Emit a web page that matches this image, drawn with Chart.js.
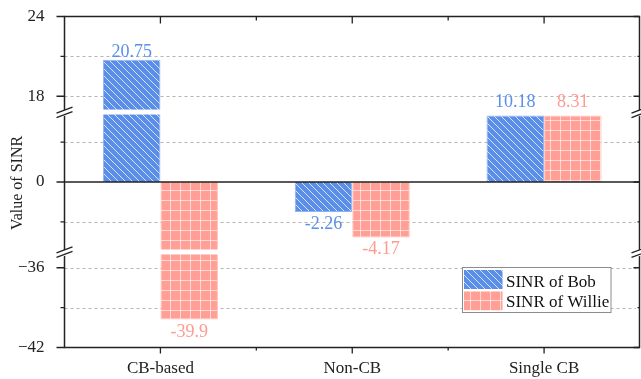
<!DOCTYPE html>
<html>
<head>
<meta charset="utf-8">
<script src="https://cdn.jsdelivr.net/npm/chart.js@4.4.0/dist/chart.umd.min.js"></script>
<style>
  html, body { margin: 0; padding: 0; background: #fff; }
</style>
</head>
<body>
<canvas id="sinrChart" width="641" height="379"></canvas>
<script>
// data
const categories = ['CB-based', 'Non-CB', 'Single CB'];
const bobValues = [20.75, -2.26, 10.18];
const willieValues = [-39.9, -4.17, 8.31];
const majorTicks = [-42, -36, 0, 18, 24];
const minorTicks = [-39, -3, 3, 21];
const axisSegments = [[-42, -35], [-5, 5], [17, 24]];

const GAP = 6;
const FONT = "'Liberation Serif', 'Times New Roman', serif";
const BOB = '#5a8ee8';
const WILLIE = '#ff9f96';

// y scale with two breaks: each segment keeps the same unit length
class BrokenLinearScale extends Chart.LinearScale {
    determineDataLimits() {
        this.min = axisSegments[0][0];
        this.max = axisSegments[axisSegments.length - 1][1];
    }
    buildTicks() {
        return majorTicks.concat(minorTicks).sort((a, b) => a - b).map(v => ({ value: v }));
    }
    getPixelForValue(value) {
        const span = axisSegments.reduce((s, g) => s + g[1] - g[0], 0);
        const unit = (this.bottom - this.top - GAP * (axisSegments.length - 1)) / span;
        let y = this.bottom;
        for (let i = 0; i < axisSegments.length; i++) {
            const [lo, hi] = axisSegments[i];
            if (value < lo) return i === 0 ? y : y + GAP;
            if (value <= hi || i === axisSegments.length - 1) return y - (Math.min(value, hi) - lo) * unit;
            y -= (hi - lo) * unit + GAP;
        }
        return y;
    }
    getValueForPixel(pixel) {
        return this.min + (this.bottom - pixel) / (this.bottom - this.top) * (this.max - this.min);
    }
}
BrokenLinearScale.id = 'brokenLinear';
BrokenLinearScale.defaults = {};
Chart.register(BrokenLinearScale);

function hatchPattern(base) {
    const s = 7;
    const c = document.createElement('canvas');
    c.width = c.height = s;
    const g = c.getContext('2d');
    g.fillStyle = base;
    g.fillRect(0, 0, s, s);
    g.strokeStyle = 'rgba(255,255,255,0.75)';
    g.lineWidth = 1;
    g.beginPath();
    g.moveTo(-1, -1); g.lineTo(s + 1, s + 1);
    g.moveTo(-1, s - 1); g.lineTo(1, s + 1);
    g.moveTo(s - 1, -1); g.lineTo(s + 1, 1);
    g.stroke();
    return g.createPattern(c, 'repeat');
}

function gridPattern(base) {
    const s = 10;
    const c = document.createElement('canvas');
    c.width = c.height = s;
    const g = c.getContext('2d');
    g.fillStyle = base;
    g.fillRect(0, 0, s, s);
    g.fillStyle = 'rgba(255,255,255,0.6)';
    g.fillRect(0, 0, s, 1);
    g.fillRect(0, 0, 1, s);
    return g.createPattern(c, 'repeat');
}

const bobFill = hatchPattern(BOB);
const willieFill = gridPattern(WILLIE);

function breakMark(ctx, x, yc) {
    ctx.save();
    ctx.fillStyle = '#fff';
    ctx.beginPath();
    ctx.moveTo(x - 8, yc + 1.5); ctx.lineTo(x + 8, yc - 4.5);
    ctx.lineTo(x + 8, yc + 1.5); ctx.lineTo(x - 8, yc + 7.5);
    ctx.closePath();
    ctx.fill();
    ctx.strokeStyle = '#222';
    ctx.lineWidth = 1.3;
    ctx.beginPath();
    ctx.moveTo(x - 8, yc + 1.5); ctx.lineTo(x + 8, yc - 4.5);
    ctx.moveTo(x - 8, yc + 6); ctx.lineTo(x + 8, yc);
    ctx.stroke();
    ctx.restore();
}

const brokenAxisPlugin = {
    id: 'brokenAxis',
    beforeDatasetsDraw(chart) {
        const { ctx, chartArea: a, scales: { y } } = chart;
        ctx.save();
        ctx.strokeStyle = '#b4b4b4';
        ctx.lineWidth = 1;
        ctx.setLineDash([3, 3]);
        [-39, -36, -3, 3, 18, 21].forEach(v => {
            const py = Math.round(y.getPixelForValue(v)) + 0.5;
            ctx.beginPath();
            ctx.moveTo(a.left, py);
            ctx.lineTo(a.right - 4, py);
            ctx.stroke();
        });
        ctx.restore();
    },
    afterDatasetsDraw(chart) {
        const { ctx, chartArea: a, scales: { x, y } } = chart;
        ctx.save();

        // white strips where the axis is broken
        const gapTops = [y.getPixelForValue(axisSegments[1][0]), y.getPixelForValue(axisSegments[2][0])];
        ctx.fillStyle = '#fff';
        ctx.fillRect(a.left + 1, gapTops[1], a.right - a.left - 2, GAP - 1);
        ctx.fillRect(a.left + 1, gapTops[0] + 1, a.right - a.left - 2, GAP - 1);

        // zero line
        const y0 = y.getPixelForValue(0);
        ctx.strokeStyle = '#222';
        ctx.lineWidth = 1.5;
        ctx.beginPath();
        ctx.moveTo(a.left, y0); ctx.lineTo(a.right, y0);
        ctx.stroke();

        // frame
        ctx.strokeRect(a.left, a.top, a.right - a.left - 0.5, a.bottom - a.top);

        // y ticks
        ctx.lineWidth = 1.3;
        const yTick = (v, len) => {
            const py = y.getPixelForValue(v);
            ctx.beginPath();
            ctx.moveTo(a.left - len, py); ctx.lineTo(a.left, py);
            ctx.moveTo(a.right - 0.5, py); ctx.lineTo(a.right - 0.5 - (len - 2), py);
            ctx.stroke();
        };
        majorTicks.forEach(v => yTick(v, 8));
        minorTicks.forEach(v => yTick(v, 4));

        // x ticks
        const centers = categories.map((c, i) => x.getPixelForTick(i));
        const xTick = (px, len) => {
            ctx.beginPath();
            ctx.moveTo(px, a.top); ctx.lineTo(px, a.top + len);
            ctx.moveTo(px, a.bottom); ctx.lineTo(px, a.bottom + len - 1);
            ctx.stroke();
        };
        centers.forEach(px => xTick(px, 7));
        for (let i = 0; i < centers.length - 1; i++) xTick((centers[i] + centers[i + 1]) / 2, 4);

        // break marks on both y axes
        gapTops.forEach((gt, i) => {
            const yc = i === 1 ? gt + GAP / 2 : gt + GAP / 2 + 1;
            breakMark(ctx, a.left, yc - 1);
            breakMark(ctx, a.right - 0.5, yc - 1);
        });

        // value labels
        ctx.font = '18px ' + FONT;
        ctx.textAlign = 'center';
        ctx.textBaseline = 'alphabetic';
        const labelColors = ['#5b8fea', '#ff9a90'];
        chart.data.datasets.forEach((ds, di) => {
            const meta = chart.getDatasetMeta(di);
            ctx.fillStyle = labelColors[di];
            meta.data.forEach((bar, i) => {
                const v = ds.data[i];
                let py;
                if (v >= 0) {
                    const inGap = v > axisSegments[1][1] && v < axisSegments[2][0];
                    py = (inGap ? y.getPixelForValue(axisSegments[2][0]) : bar.y) - 3;
                } else {
                    py = bar.y + 17;
                }
                ctx.fillText(String(v), bar.x, py);
            });
        });

        // y title
        ctx.save();
        ctx.translate(17.5, 183);
        ctx.rotate(-Math.PI / 2);
        ctx.fillStyle = '#222';
        ctx.font = '16px ' + FONT;
        ctx.textBaseline = 'middle';
        ctx.fillText('Value of SINR', 0, 0);
        ctx.restore();

        // legend
        const lx = 462.5, ly = 267.5;
        ctx.fillStyle = '#fff';
        ctx.fillRect(lx, ly, 148.5, 45);
        ctx.strokeStyle = '#8c8c8c';
        ctx.lineWidth = 1;
        ctx.strokeRect(lx, ly, 148.5, 45);
        ctx.fillStyle = bobFill;
        ctx.fillRect(464, 270, 38.5, 19);
        ctx.fillStyle = willieFill;
        ctx.fillRect(464, 291.5, 38.5, 19);
        ctx.fillStyle = '#111';
        ctx.font = '17px ' + FONT;
        ctx.textAlign = 'left';
        ctx.fillText('SINR of Bob', 506, 286.5);
        ctx.fillText('SINR of Willie', 506, 306.5);

        ctx.restore();
    }
};

Chart.defaults.font.family = FONT;
Chart.defaults.color = '#222';

new Chart(document.getElementById('sinrChart'), {
    type: 'bar',
    data: {
        labels: categories,
        datasets: [{
            label: 'SINR of Bob',
            data: bobValues,
            backgroundColor: bobFill,
            borderColor: '#8fb2f0',
            borderWidth: 1
        }, {
            label: 'SINR of Willie',
            data: willieValues,
            backgroundColor: willieFill,
            borderColor: '#ffc3bc',
            borderWidth: 1
        }]
    },
    options: {
        responsive: false,
        animation: false,
        events: [],
        layout: { padding: { top: 16.5, right: 1, left: 0, bottom: 0 } },
        datasets: { bar: { categoryPercentage: 0.6, barPercentage: 1.0 } },
        plugins: { legend: { display: false }, tooltip: { enabled: false } },
        scales: {
            x: {
                grid: { display: false },
                border: { display: false },
                ticks: { font: { size: 17 }, padding: 3, color: '#222' },
                afterFit: s => { s.height = 31.5; s.paddingLeft = 0; s.paddingRight = 0; }
            },
            y: {
                type: 'brokenLinear',
                grid: { display: false },
                border: { display: false },
                ticks: {
                    autoSkip: false,
                    padding: 12,
                    font: { size: 17 },
                    color: '#222',
                    callback: v => majorTicks.includes(v) ? String(v).replace('-', '\u2212') : ''
                },
                afterFit: s => { s.width = 64.5; s.paddingTop = 0; s.paddingBottom = 0; }
            }
        }
    },
    plugins: [brokenAxisPlugin]
});
</script>
</body>
</html>
